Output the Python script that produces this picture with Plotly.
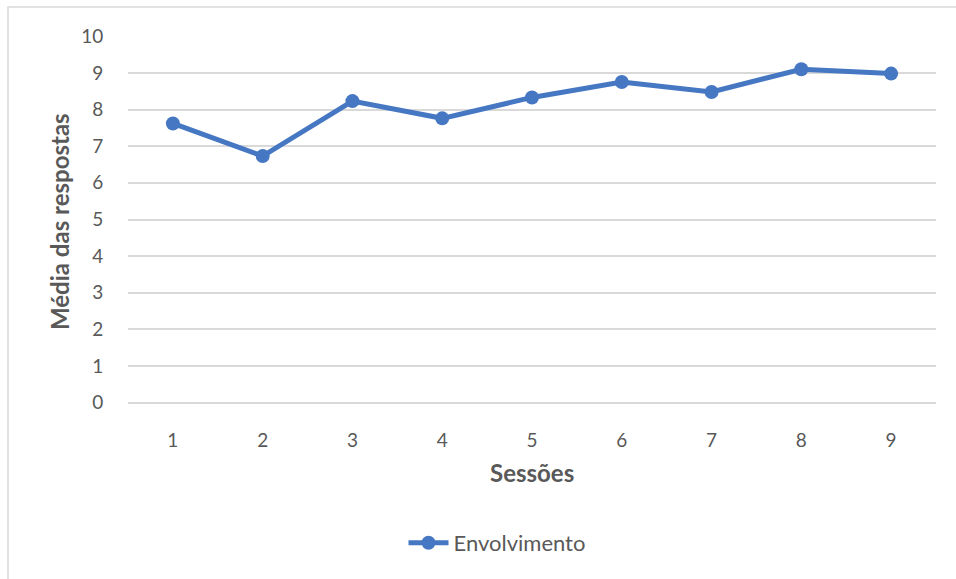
import plotly.graph_objects as go

# Session-by-session average of answers
sessoes = [1, 2, 3, 4, 5, 6, 7, 8, 9]
envolvimento = [7.62, 6.73, 8.23, 7.76, 8.33, 8.75, 8.48, 9.10, 8.98]
y_ticks = [0, 1, 2, 3, 4, 5, 6, 7, 8, 9, 10]

W, H = 956, 579
L, R, T, B = 128, 20, 36, 176
pw, ph = W - L - R, H - T - B

def px_x(p):
    return (p - L) / pw

def px_y(p):
    return (H - B - p) / ph

FONT = "Lato, Carlito, Calibri, sans-serif"
TXT = "#595959"
GRID = "#d9d9d9"
BLUE = "#4677c2"

fig = go.Figure()
fig.add_trace(go.Scatter(
    x=sessoes, y=envolvimento, mode="lines+markers", name="Envolvimento",
    line=dict(color=BLUE, width=5),
    marker=dict(color=BLUE, size=14),
))

fig.update_layout(
    width=W, height=H,
    margin=dict(l=L, r=R, t=T, b=B, pad=0),
    paper_bgcolor="white", plot_bgcolor="white",
    font=dict(family=FONT, color=TXT, size=18),
    showlegend=True,
    legend=dict(orientation="h", x=px_x(497), xanchor="center",
                y=px_y(543), yanchor="middle",
                font=dict(size=22, color=TXT), itemwidth=40),
    xaxis=dict(range=[0.5, 9.5], tickvals=sessoes, showgrid=False,
               zeroline=False, showline=False,
               ticks="outside", ticklen=20, tickcolor="rgba(0,0,0,0)",
               tickfont=dict(size=19, color=TXT)),
    yaxis=dict(range=[-0.006, 10.006], tickvals=y_ticks, showgrid=True,
               gridcolor=GRID, gridwidth=1.5,
               zeroline=True, zerolinecolor=GRID, zerolinewidth=1.5,
               showline=False,
               ticks="outside", ticklen=20, tickcolor="rgba(0,0,0,0)",
               tickfont=dict(size=19, color=TXT)),
    annotations=[
        dict(text="<b>Média das respostas</b>", xref="paper", yref="paper",
             x=px_x(60), y=px_y(222), xanchor="center", yanchor="middle",
             textangle=-90, showarrow=False, font=dict(size=24, color=TXT)),
        dict(text="<b>Sessões</b>", xref="paper", yref="paper",
             x=px_x(532), y=px_y(472), xanchor="center", yanchor="middle",
             showarrow=False, font=dict(size=24, color=TXT)),
    ],
    shapes=[
        dict(type="rect", xref="paper", yref="paper",
             x0=px_x(8), x1=px_x(W + 5), y0=px_y(H + 5), y1=px_y(7),
             line=dict(color="#d9d9d9", width=1.5), layer="below"),
    ],
)

fig.write_html("out.html")
